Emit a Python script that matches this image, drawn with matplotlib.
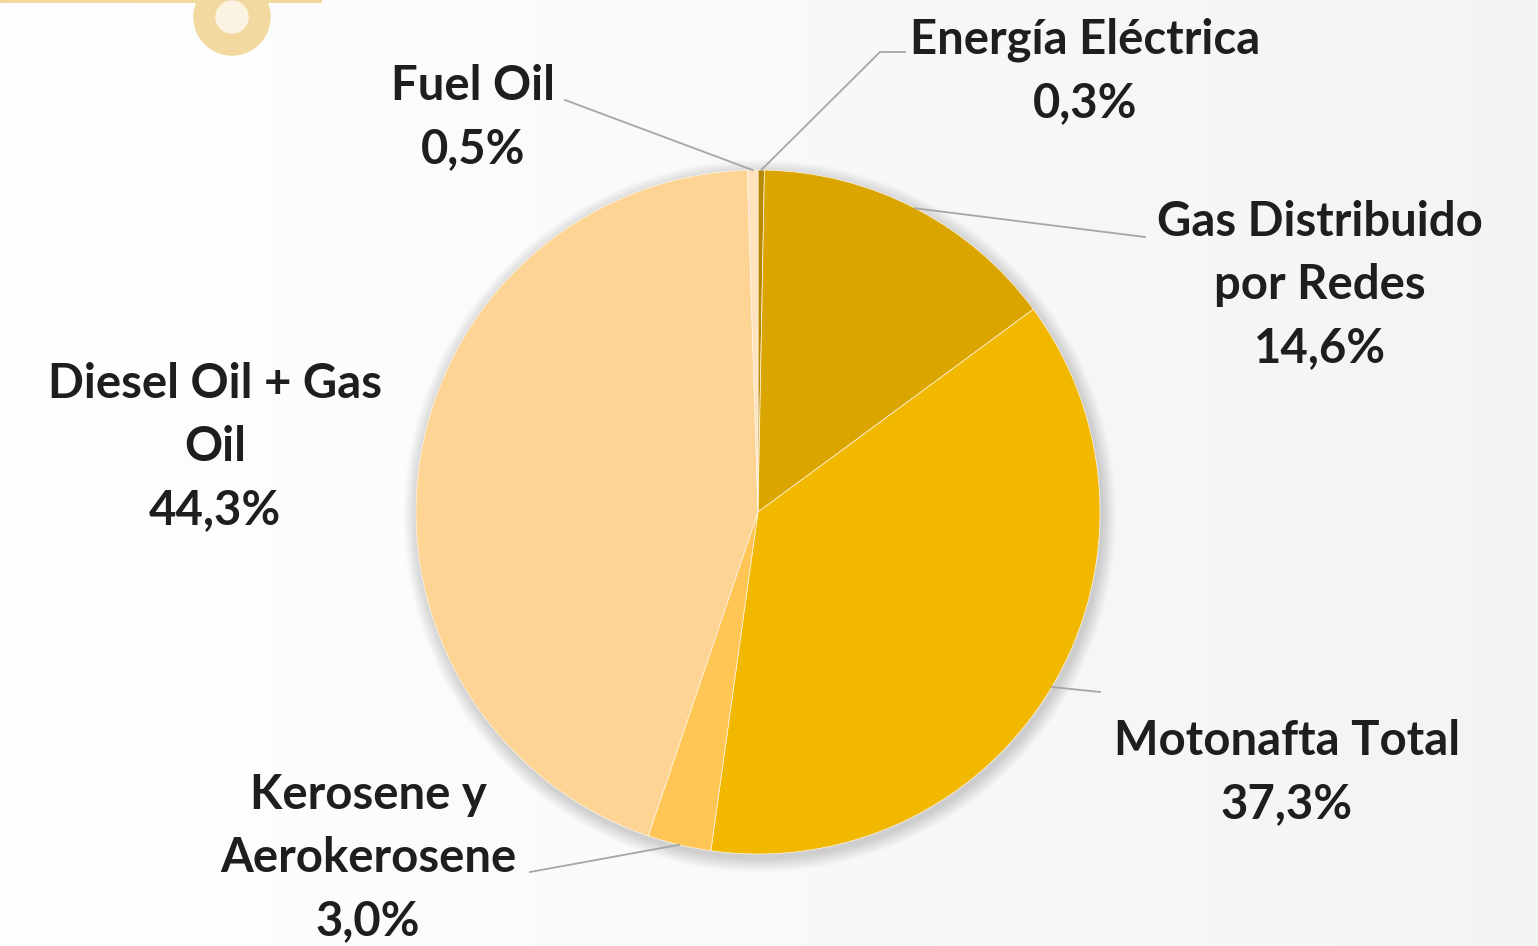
import numpy as np
import matplotlib
matplotlib.use('Agg')
import matplotlib.pyplot as plt
from matplotlib.patches import Circle, Wedge

# data, clockwise from 12 o'clock
labels = ['Energía Eléctrica', 'Gas Distribuido\npor Redes', 'Motonafta Total',
          'Kerosene y\nAerokerosene', 'Diesel Oil + Gas\nOil', 'Fuel Oil']
shares = [0.3, 14.6, 37.3, 3.0, 44.3, 0.5]
colors = ['#B98A00', '#DBA500', '#F2B800', '#FFC555', '#FDD493', '#FFE2BE']

W, H = 1538, 946
fig = plt.figure(figsize=(W / 100, H / 100), dpi=100)
ax = fig.add_axes([0, 0, 1, 1])
ax.set_xlim(0, W)
ax.set_ylim(0, H)
ax.axis('off')

# light gradient background (white -> pale gray to the right)
grad = np.linspace(1.0, 0.955, 256).reshape(1, -1)
ax.imshow(np.dstack([grad, grad, grad]), extent=[0, W, 0, H], aspect='auto', zorder=0)

# decoration in the top-left corner
ax.plot([0, 320], [H - 1, H - 1], color='#F1D9A0', lw=3, zorder=1)
ax.add_patch(Wedge((232, H - 17), 38, 0, 360, width=22, color='#F1D9A0', zorder=1))
ax.add_patch(Circle((232, H - 17), 16, color='#FBF3E2', zorder=1))

cx, cy, r = 758, H - 512, 342

# soft shadow under the pie
for k in range(14, 0, -1):
    ax.add_patch(Circle((cx + 2, cy - 4), r + k, color='#000000', alpha=0.012, lw=0, zorder=2))

wedges, _ = ax.pie(shares, colors=colors, startangle=90, counterclock=False,
                   center=(cx, cy), radius=r, frame=True,
                   wedgeprops=dict(edgecolor='#FFF6E6', linewidth=0.5))
for w in wedges:
    w.set_zorder(3)
ax.set_xlim(0, W)
ax.set_ylim(0, H)
ax.set_aspect('equal')
ax.axis('off')

font = dict(family=['Lato', 'DejaVu Sans'], weight='bold', size=34, color='#1E1E1E')
line_col = '#A6A6A6'

# label positions (text centre) and leader end points, in pixels from the top
label_pos = [(1085, 71), (1320, 285), (1287, 773), (368, 858), (215, 447), (473, 118)]
leader_end = [[(880, 52), (905, 52)], [(1145, 237)], [(1100, 692)],
              [(530, 872)], None, [(565, 100)]]

for i, (lab, val) in enumerate(zip(labels, shares)):
    txt = lab + '\n' + f'{val:.1f}%'.replace('.', ',')
    x, y = label_pos[i]
    ax.text(x, H - y, txt, ha='center', va='center', linespacing=1.53, zorder=5, **font)
    if leader_end[i] is not None:
        w = wedges[i]
        ang = np.deg2rad((w.theta1 + w.theta2) / 2)
        pts = [(cx + r * np.cos(ang), cy + r * np.sin(ang))]
        pts += [(px, H - py) for px, py in leader_end[i]]
        xs, ys = zip(*pts)
        ax.plot(xs, ys, color=line_col, lw=1.3, zorder=4)

fig.savefig('out.png', dpi=100)
